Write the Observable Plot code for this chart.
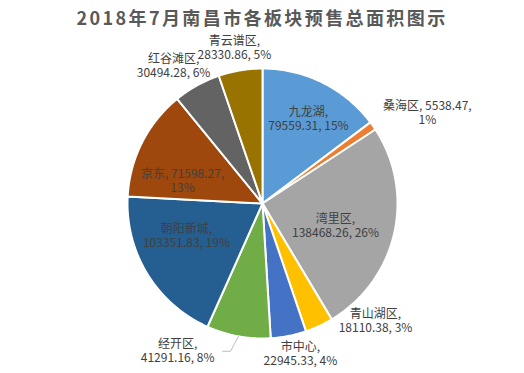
<!DOCTYPE html>
<html><head><meta charset="utf-8">
<script src="https://cdn.jsdelivr.net/npm/d3@7"></script>
<script src="https://cdn.jsdelivr.net/npm/@observablehq/plot@0.6"></script>
<style>
body{margin:0;background:#fff;}
#title{height:24px;line-height:34px;text-align:center;font-family:"Noto Sans CJK SC",sans-serif;font-weight:bold;font-size:18px;color:#595959;letter-spacing:2.4px;white-space:nowrap;overflow:visible;}
</style></head><body>
<div id="title">2018年7月南昌市各板块预售总面积图示</div>
<div id="chart"></div>
<script>
// Data (clockwise from 12 o'clock)
const names = ["九龙湖","桑海区","湾里区","青山湖区","市中心","经开区","朝阳新城","京东","红谷滩区","青云谱区"];
const values = [79559.31,5538.47,138468.26,18110.38,22945.33,41291.16,103351.83,71598.27,30494.28,28330.86];
const colors = ["#5B9BD5","#ED7D31","#A5A5A5","#FFC000","#4472C4","#70AD47","#255E91","#9E480E","#636363","#997300"];

// Layout
const W = 524, H = 349;
const cx = 262, cy = 179, R = 135;
// label placement: polar angle (deg, clockwise from top) and radius factor
const labelAngle = [28.4, 61.1, 106.8, 136.0, 165.8, 210.0, 247.2, 286.0, 327.2, 349.8];
const labelRad   = [0.716, 1.395, 0.565, 1.205, 1.146, 1.258, 0.611, 0.616, 1.216, 1.174];
const labelBreak = ["name","value","name","name","name","name","name","value","name","name"];

const total = d3.sum(values);
const pie = d3.pie().sort(null).value(d => d)(values);
const polar = (a, r) => ({x: cx + r * Math.sin(a), y: cy - r * Math.cos(a)});

const poly = [];
pie.forEach((s, i) => {
  poly.push({name: names[i], ...polar(0, 0)});
  const n = Math.max(2, Math.ceil((s.endAngle - s.startAngle) / (Math.PI / 360)));
  for (let k = 0; k <= n; k++) {
    const a = s.startAngle + (s.endAngle - s.startAngle) * k / n;
    poly.push({name: names[i], ...polar(a, R)});
  }
  poly.push({name: names[i], ...polar(0, 0)});
});

const fmtV = d3.format(".2f");
const labels = names.map((nm, i) => {
  const pct = Math.round(values[i] / total * 100) + "%";
  const txt = labelBreak[i] === "name"
    ? `${nm},\n${fmtV(values[i])}, ${pct}`
    : `${nm}, ${fmtV(values[i])},\n${pct}`;
  return {text: txt, ...polar(labelAngle[i] * Math.PI / 180, labelRad[i] * R)};
});

// leader line for 经开区
const j = names.indexOf("经开区");
const mid = (pie[j].startAngle + pie[j].endAngle) / 2;
const p0 = polar(mid, R), p1 = polar(192.2 * Math.PI / 180, 1.12 * R);
const leader = [p0, p1, {x: p1.x - 8, y: p1.y}];

const chart = Plot.plot({
  width: W, height: H,
  margin: 0,
  x: {domain: [0, W], range: [0, W], axis: null},
  y: {domain: [0, H], range: [0, H], axis: null},
  color: {domain: names, range: colors},
  style: {background: "transparent", overflow: "visible"},
  marks: [
    Plot.line(poly, {x: "x", y: "y", z: "name", fill: "name", stroke: "#fff", strokeWidth: 2, strokeLinejoin: "round"}),
    Plot.line(leader, {x: "x", y: "y", stroke: "#BFBFBF", strokeWidth: 1}),
    Plot.text(labels, {x: "x", y: "y", text: "text", fill: "#404040", fontSize: 12, lineHeight: 1.2, fontFamily: "Noto Sans CJK SC, sans-serif", textAnchor: "middle"})
  ]
});
document.getElementById("chart").appendChild(chart);
</script>
</body></html>
